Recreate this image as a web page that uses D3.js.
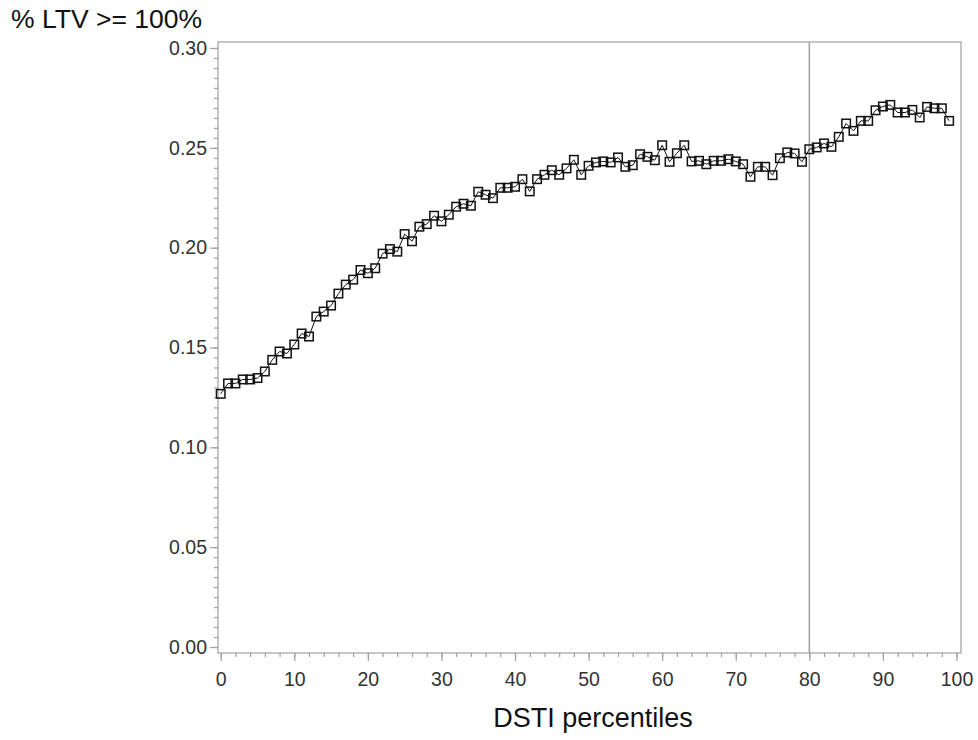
<!DOCTYPE html>
<html>
<head>
<meta charset="utf-8">
<script src="https://cdn.jsdelivr.net/npm/d3@7"></script>
<style>
  body { margin: 0; background: #fff; }
  svg { font-family: "Liberation Sans", Arial, sans-serif; }
</style>
</head>
<body>
<div id="chart"></div>
<script>
// DSTI percentile on x, share of loans with LTV >= 100% on y
const percentiles = d3.range(0, 100);
const ltvShare = [
  0.1268, 0.1320, 0.1320, 0.1340, 0.1340, 0.1347, 0.1380, 0.1438, 0.1480, 0.1470,
  0.1515, 0.1570, 0.1555, 0.1655, 0.1680, 0.1710, 0.1770, 0.1815, 0.1840, 0.1888,
  0.1872, 0.1897, 0.1970, 0.1993, 0.1980, 0.2068, 0.2032, 0.2105, 0.2118, 0.2160,
  0.2132, 0.2165, 0.2205, 0.2220, 0.2210, 0.2280, 0.2265, 0.2248, 0.2300, 0.2300,
  0.2305, 0.2343, 0.2282, 0.2343, 0.2365, 0.2388, 0.2365, 0.2397, 0.2440, 0.2365,
  0.2410, 0.2427, 0.2432, 0.2427, 0.2452, 0.2405, 0.2413, 0.2468, 0.2455, 0.2438,
  0.2513, 0.2430, 0.2473, 0.2513, 0.2432, 0.2435, 0.2418, 0.2435, 0.2435, 0.2443,
  0.2432, 0.2418, 0.2355, 0.2405, 0.2405, 0.2363, 0.2448, 0.2477, 0.2472, 0.2430,
  0.2493, 0.2502, 0.2522, 0.2505, 0.2555, 0.2622, 0.2585, 0.2635, 0.2635, 0.2688,
  0.2707, 0.2715, 0.2677, 0.2677, 0.2690, 0.2652, 0.2705, 0.2698, 0.2698, 0.2635
];
const xTicks = [0, 10, 20, 30, 40, 50, 60, 70, 80, 90, 100];
const yTicks = [0, 0.05, 0.10, 0.15, 0.20, 0.25, 0.30];
const refLine = 80;

const width = 978, height = 740;
const frame = {left: 218, right: 961, top: 42, bottom: 653};

const svg = d3.select("#chart").append("svg")
    .attr("width", width)
    .attr("height", height);

const x = d3.scaleLinear().domain([0, 100]).range([220.7, 956.5]);
const y = d3.scaleLinear().domain([0, 0.30]).range([647, 48]);

const axisColor = "#a0a0a0";
const labelColor = "#333";

// plot frame
svg.append("rect")
    .attr("x", frame.left).attr("y", frame.top)
    .attr("width", frame.right - frame.left)
    .attr("height", frame.bottom - frame.top)
    .attr("fill", "none")
    .attr("stroke", axisColor)
    .attr("stroke-width", 1.2);

// x axis, minor ticks every 2 then majors
const xMinor = svg.append("g").attr("transform", `translate(0,${frame.bottom})`)
    .call(d3.axisBottom(x).tickValues(d3.range(0, 101, 2)).tickSize(4).tickFormat(""));
xMinor.select(".domain").remove();
const xMajor = svg.append("g").attr("transform", `translate(0,${frame.bottom})`)
    .call(d3.axisBottom(x).tickValues(xTicks).tickSize(8).tickPadding(11).tickFormat(d3.format("d")));
xMajor.select(".domain").remove();
xMajor.selectAll("text").attr("fill", labelColor).style("font-size", "19.5px");

// y axis
const yMinor = svg.append("g").attr("transform", `translate(${frame.left},0)`)
    .call(d3.axisLeft(y).tickValues(d3.range(0, 0.3001, 0.005)).tickSize(4).tickFormat(""));
yMinor.select(".domain").remove();
const yMajor = svg.append("g").attr("transform", `translate(${frame.left},0)`)
    .call(d3.axisLeft(y).tickValues(yTicks).tickSize(8).tickPadding(3).tickFormat(d3.format(".2f")));
yMajor.select(".domain").remove();
yMajor.selectAll("text").attr("fill", labelColor).style("font-size", "19.5px");
svg.selectAll(".tick line").attr("stroke", axisColor).attr("stroke-width", 1.2);

// reference line at the 80th percentile
svg.append("line")
    .attr("x1", x(refLine)).attr("x2", x(refLine))
    .attr("y1", frame.top).attr("y2", frame.bottom)
    .attr("stroke", axisColor)
    .attr("stroke-width", 1.5);

// series
const pts = percentiles.map((p, i) => [p, ltvShare[i]]);
svg.append("path")
    .datum(pts)
    .attr("fill", "none")
    .attr("stroke", "#111")
    .attr("stroke-width", 1)
    .attr("d", d3.line().x(d => x(d[0])).y(d => y(d[1])));

const m = 8.5;
svg.append("g").selectAll("rect")
    .data(pts)
    .enter()
    .append("rect")
    .attr("x", d => x(d[0]) - m / 2)
    .attr("y", d => y(d[1]) - m / 2)
    .attr("width", m).attr("height", m)
    .attr("fill", "none")
    .attr("stroke", "#111")
    .attr("stroke-width", 1.5);

// titles
svg.append("text")
    .attr("x", 11).attr("y", 28)
    .attr("fill", "#111")
    .style("font-size", "26.5px")
    .text("% LTV >= 100%");

svg.append("text")
    .attr("x", 593).attr("y", 727)
    .attr("text-anchor", "middle")
    .attr("fill", "#111")
    .style("font-size", "27px")
    .text("DSTI percentiles");
</script>
</body>
</html>
